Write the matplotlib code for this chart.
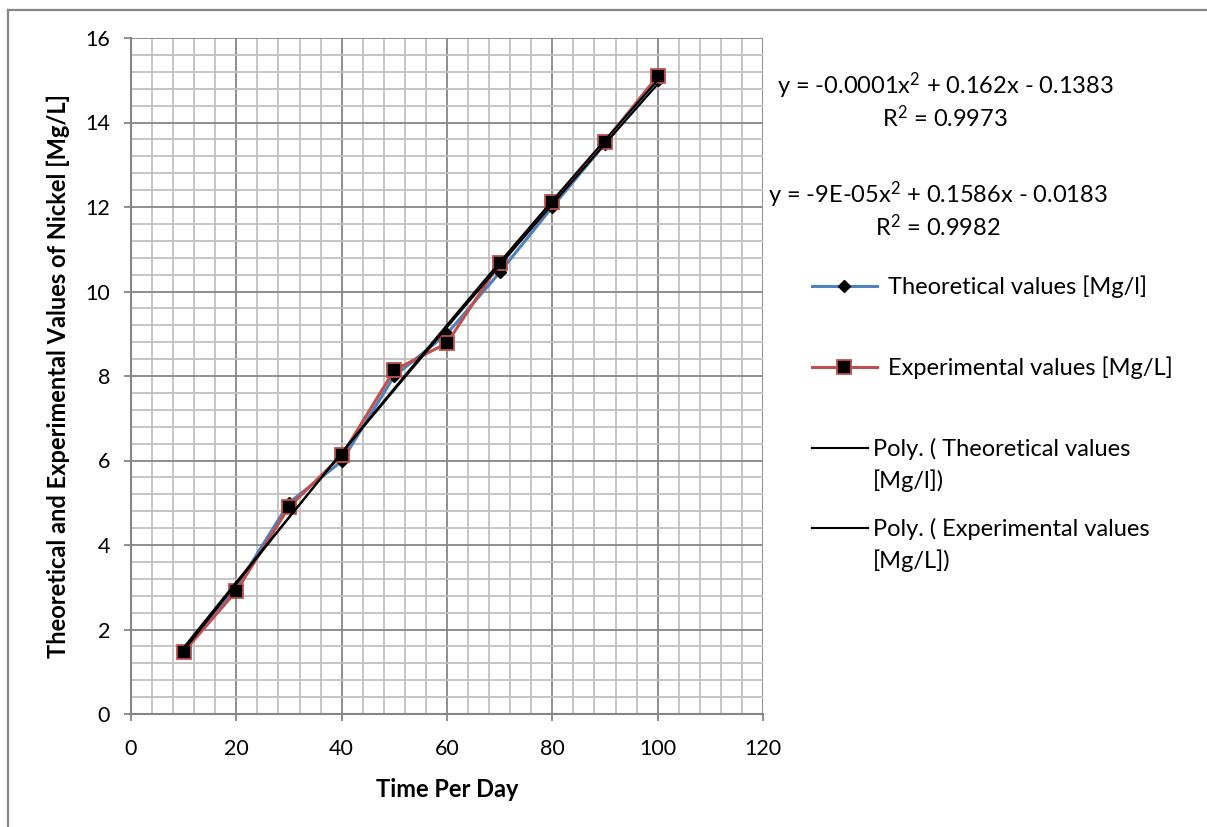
import numpy as np
import matplotlib
matplotlib.use("Agg")
import matplotlib.pyplot as plt
from matplotlib.ticker import MultipleLocator
from matplotlib.lines import Line2D
from matplotlib.legend_handler import HandlerLine2D

plt.rcParams['font.family'] = ['Lato', 'DejaVu Sans']
plt.rcParams['mathtext.fontset'] = 'custom'
plt.rcParams['mathtext.rm'] = 'Lato'
plt.rcParams['mathtext.it'] = 'Lato'

# Nickel readings per day
days = [10, 20, 30, 40, 50, 60, 70, 80, 90, 100]
theoretical = [1.5, 3.0, 5.0, 5.98, 8.0, 9.0, 10.45, 12.0, 13.5, 15.0]
experimental = [1.47, 2.91, 4.9, 6.12, 8.14, 8.78, 10.67, 12.12, 13.55, 15.1]

eq_theoretical = 'y = -0.0001x$^{2}$ + 0.162x - 0.1383\nR$^{2}$ = 0.9973'
eq_experimental = 'y = -9E-05x$^{2}$ + 0.1586x - 0.0183\nR$^{2}$ = 0.9982'

labels = ['Theoretical values [Mg/l]',
          'Experimental values [Mg/L]',
          'Poly. ( Theoretical values\n[Mg/l])',
          'Poly. ( Experimental values\n[Mg/L])']

BLUE = '#4F81BD'
RED = '#C0504D'
GRID_MINOR = '#C0C0C0'
GRID_MAJOR = '#868686'
FS = 17

W, H = 1207, 827


class HandlerFirstLine(HandlerLine2D):
    """Line handle raised to sit next to the first line of a wrapped label."""

    def __init__(self, shift, **kw):
        super().__init__(**kw)
        self.shift = shift

    def create_artists(self, legend, orig_handle, xdescent, ydescent,
                       width, height, fontsize, trans):
        artists = super().create_artists(legend, orig_handle, xdescent, ydescent,
                                         width, height, fontsize, trans)
        for a in artists:
            a.set_ydata(np.asarray(a.get_ydata()) + self.shift)
        return artists


fig = plt.figure(figsize=(W / 100, H / 100), dpi=100)
ax = fig.add_axes([131 / W, 1 - 714 / H, 632 / W, 676 / H])

# chart area border (left and top edges only are inside the canvas)
fig.add_artist(Line2D([8 / W, 8 / W], [0, 1 - 10 / H], color=GRID_MAJOR, lw=1.6))
fig.add_artist(Line2D([8 / W, 1], [1 - 10 / H, 1 - 10 / H], color=GRID_MAJOR, lw=1.6))

ax.set_xlim(0, 120)
ax.set_ylim(0, 16)
ax.xaxis.set_major_locator(MultipleLocator(20))
ax.xaxis.set_minor_locator(MultipleLocator(4))
ax.yaxis.set_major_locator(MultipleLocator(2))
ax.yaxis.set_minor_locator(MultipleLocator(0.4))

ax.grid(which='minor', color=GRID_MINOR, lw=1.3, zorder=0)
ax.grid(which='major', color=GRID_MAJOR, lw=1.3, zorder=0)
ax.set_axisbelow(True)

for side in ['top', 'right']:
    ax.spines[side].set_visible(False)
for side in ['left', 'bottom']:
    ax.spines[side].set_color(GRID_MAJOR)
    ax.spines[side].set_linewidth(1.5)

ax.tick_params(which='major', length=5, width=1.3, color=GRID_MAJOR, labelsize=15.5)
ax.tick_params(axis='x', pad=13)
ax.tick_params(axis='y', pad=10)
ax.tick_params(which='minor', length=0)

h1, = ax.plot(days, theoretical, color=BLUE, lw=2.2, marker='D', ms=6,
              mfc='black', mec='black', zorder=3)
h2, = ax.plot(days, experimental, color=RED, lw=2.2, marker='s', ms=9.5,
              mfc='black', mec=RED, mew=1.3, zorder=4)

# second order polynomial trendlines
xs = np.linspace(min(days), max(days), 200)
fit_t = np.polyfit(days, theoretical, 2)
fit_e = np.polyfit(days, experimental, 2)
h3, = ax.plot(xs, np.polyval(fit_t, xs), color='black', lw=1.5, zorder=5)
h4, = ax.plot(xs, np.polyval(fit_e, xs), color='black', lw=1.5, zorder=5)

ax.set_xlabel('Time Per Day', fontsize=FS, fontweight='bold')
ax.xaxis.set_label_coords(0.5, -0.095)
ax.set_ylabel('Theoretical and Experimental Values of Nickel [Mg/L]',
              fontsize=FS, fontweight='bold', va='center')
ax.yaxis.set_label_coords(-0.1155, 0.5)

fig.text(945 / W, 1 - 101 / H, eq_theoretical, fontsize=FS, ha='center',
         va='center', linespacing=1.15)
fig.text(938 / W, 1 - 210 / H, eq_experimental, fontsize=FS, ha='center',
         va='center', linespacing=1.15)

# one legend per entry so each row sits in its own slot
entries = [(h1, labels[0], 287, 2.75, 0.47, None),
           (h2, labels[1], 368, 2.75, 0.47, None),
           (h3, labels[2], 465, 2.37, 0.2, 12.6),
           (h4, labels[3], 545, 2.37, 0.2, 12.6)]
for handle, text, ypix, hlen, hpad, shift in entries:
    hmap = {} if shift is None else {handle: HandlerFirstLine(shift)}
    leg = fig.legend([handle], [text], loc='center left',
                     bbox_to_anchor=(812 / W, 1 - ypix / H), frameon=False,
                     fontsize=FS, handlelength=hlen, handletextpad=hpad,
                     borderpad=0, borderaxespad=0, handler_map=hmap)
    for t in leg.get_texts():
        t.set_linespacing(1.55)

fig.savefig('out.png', dpi=100)
